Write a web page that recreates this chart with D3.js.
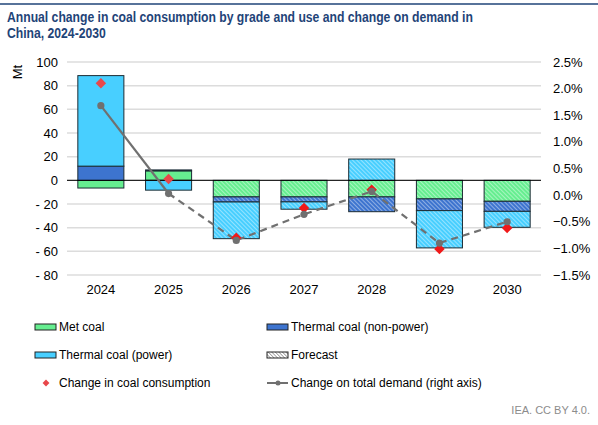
<!DOCTYPE html>
<html>
<head>
<meta charset="utf-8">
<script src="https://cdn.jsdelivr.net/npm/d3@7"></script>
<style>
  body { margin: 0; background: #fff; }
  text { font-family: "Liberation Sans", Arial, sans-serif; }
</style>
</head>
<body>
<div id="chart"></div>
<script>
// data
var years = ["2024", "2025", "2026", "2027", "2028", "2029", "2030"];
var metCoal = [-6.5, 8, -14, -14, -14, -15.7, -17.7];
var thermalNonPower = [12, 0.8, -4.3, -4.2, -12.5, -9.9, -8.5];
var thermalPower = [76.5, -8.3, -31, -6.2, 18, -31.5, -13.5];
var coalChange = [82, 1.2, -48.5, -23.3, -7.9, -58, -40.2];
var demandPct = [1.68, 0.03, -0.85, -0.36, 0.07, -0.9, -0.5];
var forecastFrom = 2; // index of first hatched year
var leftTicks = [100, 80, 60, 40, 20, 0, -20, -40, -60, -80];
var rightTicks = [2.5, 2.0, 1.5, 1.0, 0.5, 0.0, -0.5, -1.0, -1.5];

var keys = ["met", "nonpower", "power"];
var colors = {met: "#66ee90", nonpower: "#3d74cf", power: "#48cfff"};
var rows = years.map(function(y, i) {
  return {year: y, met: metCoal[i], nonpower: thermalNonPower[i], power: thermalPower[i]};
});

var svg = d3.select("#chart").append("svg").attr("width", 598).attr("height", 425);
var margin = {top: 62, left: 67, right: 57, bottom: 150};
var width = 598 - margin.left - margin.right,
    height = 425 - margin.top - margin.bottom;

// hatch patterns
var defs = svg.append("defs");
keys.forEach(function(k) {
  var p = defs.append("pattern").attr("id", "hatch-" + k)
    .attr("patternUnits", "userSpaceOnUse").attr("width", 3).attr("height", 3)
    .attr("patternTransform", "rotate(-45)");
  p.append("rect").attr("width", 3).attr("height", 3).attr("fill", colors[k]);
  p.append("line").attr("x1", 0).attr("y1", 0).attr("x2", 0).attr("y2", 3)
    .attr("stroke", "#fff").attr("stroke-width", 1.2).attr("opacity", 0.7);
});
var lp = defs.append("pattern").attr("id", "hatch-legend")
  .attr("patternUnits", "userSpaceOnUse").attr("width", 2.5).attr("height", 2.5)
  .attr("patternTransform", "rotate(-45)");
lp.append("rect").attr("width", 2.5).attr("height", 2.5).attr("fill", "#fff");
lp.append("line").attr("x1", 0).attr("y1", 0).attr("x2", 0).attr("y2", 2.5)
  .attr("stroke", "#555").attr("stroke-width", 1);

// top rule + title
svg.append("line").attr("x1", 0).attr("x2", 598).attr("y1", 4).attr("y2", 4)
  .attr("stroke", "#1f4478").attr("stroke-width", 1.5);
var title = svg.append("text").attr("transform", "translate(7,22) scale(0.87,1)").attr("fill", "#1f4478")
  .attr("font-size", 14).attr("font-weight", "bold");
title.append("tspan").attr("x", 0).text("Annual change in coal consumption by grade and use and change on demand in");
title.append("tspan").attr("x", 0).attr("dy", 16.5).text("China, 2024-2030");

var g = svg.append("g").attr("transform", "translate(" + margin.left + "," + margin.top + ")");

var x = d3.scaleBand().domain(years).range([0, width]).paddingInner(0.32).paddingOuter(0.16);
var y = d3.scaleLinear().domain([-80, 100]).range([213, 0]);
var y2 = d3.scaleLinear().domain([-1.5, 2.5]).range([213, 0]);

// gridlines
g.selectAll(".grid").data(leftTicks).enter().append("line")
  .attr("x1", 0).attr("x2", width)
  .attr("y1", function(d) { return y(d); }).attr("y2", function(d) { return y(d); })
  .attr("stroke", "#dcdcdc").attr("stroke-width", 1.5);

// left axis labels
g.selectAll(".ly").data(leftTicks).enter().append("text")
  .attr("x", -9).attr("y", function(d) { return y(d); }).attr("dy", "0.35em")
  .attr("text-anchor", "end").attr("font-size", 13).attr("fill", "#000")
  .text(function(d) { return d < 0 ? "- " + (-d) : d; });

// right axis labels
g.selectAll(".ry").data(rightTicks).enter().append("text")
  .attr("x", width + 12).attr("y", function(d) { return y2(d); }).attr("dy", "0.35em")
  .attr("font-size", 13).attr("fill", "#000")
  .text(function(d) { return d3.format(".1f")(d) + "%"; });

svg.append("text").attr("transform", "translate(22,72) rotate(-90)")
  .attr("text-anchor", "middle").attr("font-size", 13).text("Mt");

// bars
var series = d3.stack().keys(keys).offset(d3.stackOffsetDiverging)(rows);
g.append("g").selectAll("g").data(series).enter().append("g")
  .selectAll("rect").data(function(s) { return s.map(function(d, i) { return {key: s.key, d: d, i: i}; }); })
  .enter().append("rect")
    .attr("x", function(o) { return x(o.d.data.year); })
    .attr("y", function(o) { return y(Math.max(o.d[0], o.d[1])); })
    .attr("width", x.bandwidth())
    .attr("height", function(o) { return Math.abs(y(o.d[0]) - y(o.d[1])); })
    .attr("fill", function(o) { return o.i >= forecastFrom ? "url(#hatch-" + o.key + ")" : colors[o.key]; })
    .attr("stroke", "#1b2b33").attr("stroke-width", 1);

// zero line
g.append("line").attr("x1", 0).attr("x2", width).attr("y1", y(0)).attr("y2", y(0))
  .attr("stroke", "#000").attr("stroke-width", 1);

// x labels
g.append("g").attr("transform", "translate(0,213)")
  .call(d3.axisBottom(x).tickSize(0).tickPadding(10))
  .call(function(a) { a.select(".domain").remove(); })
  .selectAll("text").attr("font-size", 13).attr("font-family", "Liberation Sans, Arial, sans-serif").attr("fill", "#000");

// demand line (solid for history, dashed for forecast)
var cx = function(i) { return x(years[i]) + x.bandwidth() / 2; };
var line = d3.line().x(function(d) { return cx(d); }).y(function(d) { return y2(demandPct[d]); });
g.append("path").attr("d", line([0, 1])).attr("fill", "none")
  .attr("stroke", "#707070").attr("stroke-width", 2.2);
g.append("path").attr("d", line(d3.range(1, years.length))).attr("fill", "none")
  .attr("stroke", "#707070").attr("stroke-width", 2.2).attr("stroke-dasharray", "7,5");

// diamonds
g.selectAll(".dia").data(coalChange).enter().append("path")
  .attr("d", d3.symbol().type(d3.symbolDiamond2).size(70))
  .attr("transform", function(d, i) { return "translate(" + cx(i) + "," + y(d) + ")"; })
  .attr("fill", function(d, i) { return i >= forecastFrom ? "#f01818" : "#e8474a"; });

g.selectAll(".pt").data(demandPct).enter().append("circle")
  .attr("cx", function(d, i) { return cx(i); }).attr("cy", function(d) { return y2(d); })
  .attr("r", 3.6).attr("fill", "#707070");

// legend
var legend = svg.append("g").attr("font-size", 12);
var items = [
  {label: "Met coal", type: "box", fill: colors.met, x: 35, y: 327},
  {label: "Thermal coal (non-power)", type: "box", fill: colors.nonpower, x: 267, y: 327},
  {label: "Thermal coal (power)", type: "box", fill: colors.power, x: 35, y: 355},
  {label: "Forecast", type: "box", fill: "url(#hatch-legend)", x: 267, y: 355},
  {label: "Change in coal consumption", type: "diamond", x: 35, y: 383},
  {label: "Change on total demand (right axis)", type: "line", x: 267, y: 383}
];
items.forEach(function(it) {
  var li = legend.append("g").attr("transform", "translate(" + it.x + "," + it.y + ")");
  if (it.type == "box") {
    li.append("rect").attr("x", 0).attr("y", -3).attr("width", 21).attr("height", 6)
      .attr("fill", it.fill).attr("stroke", "#222").attr("stroke-width", 1);
  } else if (it.type == "diamond") {
    li.append("path").attr("d", d3.symbol().type(d3.symbolDiamond2).size(30))
      .attr("transform", "translate(11,0)").attr("fill", "#e8474a");
  } else {
    li.append("line").attr("x1", 0).attr("x2", 21).attr("stroke", "#707070").attr("stroke-width", 2);
    li.append("circle").attr("cx", 11).attr("r", 2.5).attr("fill", "#707070");
  }
  li.append("text").attr("x", 24).attr("dy", "0.35em").text(it.label);
});

svg.append("text").attr("x", 590).attr("y", 414).attr("text-anchor", "end")
  .attr("font-size", 11).attr("fill", "#8c8c8c").text("IEA. CC BY 4.0.");
</script>
</body>
</html>
